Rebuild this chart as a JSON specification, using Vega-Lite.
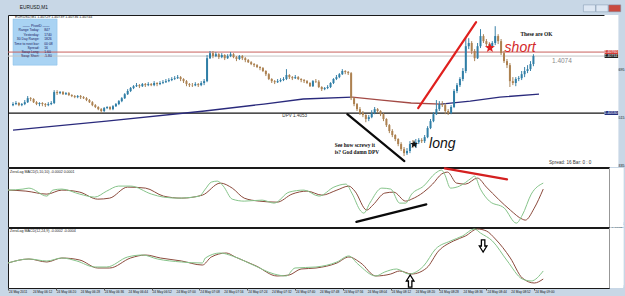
{
"$schema":"https://vega.github.io/schema/vega-lite/v6.json",
"background":"#c8d7e6",
"padding":{"left":5,"top":4,"right":6,"bottom":3},
"spacing":1,
"bounds":"flush",
"config":{
"font":"Liberation Sans",
"view":{"stroke":"#1a1a1a","strokeWidth":1,"fill":"#ffffff"},
"axisY":{"grid":false,"ticks":false,"domain":false,"offset":0,"labelPadding":2,"labelFontSize":3.6,"labelColor":"#111111","labelOverlap":false,"labelFlush":false,"zindex":1},
"axisX":{"grid":false,"domain":false,"ticks":true,"tickSize":2,"tickColor":"#555555","labels":false,"zindex":1}
},
"datasets":{
"candles":[
{"m":4,"o":1.4056,"h":1.40571,"l":1.40556,"c":1.40564},
{"m":5,"o":1.40564,"h":1.40575,"l":1.4056,"c":1.40568},
{"m":6,"o":1.40568,"h":1.40571,"l":1.40556,"c":1.4056},
{"m":7,"o":1.4056,"h":1.40568,"l":1.40556,"c":1.40564},
{"m":8,"o":1.40564,"h":1.40579,"l":1.4056,"c":1.40571},
{"m":9,"o":1.40571,"h":1.40594,"l":1.40568,"c":1.40586},
{"m":10,"o":1.40586,"h":1.4059,"l":1.40575,"c":1.40583},
{"m":11,"o":1.40583,"h":1.40586,"l":1.40568,"c":1.40571},
{"m":12,"o":1.40571,"h":1.40575,"l":1.4056,"c":1.40564},
{"m":13,"o":1.40564,"h":1.40571,"l":1.40556,"c":1.40568},
{"m":14,"o":1.40568,"h":1.40571,"l":1.40556,"c":1.40564},
{"m":15,"o":1.40564,"h":1.40568,"l":1.40553,"c":1.4056},
{"m":16,"o":1.4056,"h":1.40571,"l":1.40556,"c":1.40564},
{"m":17,"o":1.40564,"h":1.40575,"l":1.4056,"c":1.40568},
{"m":18,"o":1.40568,"h":1.40616,"l":1.40564,"c":1.40609},
{"m":19,"o":1.40609,"h":1.40616,"l":1.40598,"c":1.40605},
{"m":20,"o":1.40605,"h":1.40613,"l":1.40601,"c":1.40609},
{"m":21,"o":1.40609,"h":1.40613,"l":1.40598,"c":1.40601},
{"m":22,"o":1.40601,"h":1.40609,"l":1.40598,"c":1.40605},
{"m":23,"o":1.40605,"h":1.40609,"l":1.40594,"c":1.40598},
{"m":24,"o":1.40598,"h":1.40601,"l":1.4059,"c":1.40594},
{"m":25,"o":1.40594,"h":1.40598,"l":1.40586,"c":1.4059},
{"m":26,"o":1.4059,"h":1.40598,"l":1.40586,"c":1.40594},
{"m":27,"o":1.40594,"h":1.40598,"l":1.40583,"c":1.4059},
{"m":28,"o":1.4059,"h":1.40594,"l":1.40583,"c":1.40586},
{"m":29,"o":1.40586,"h":1.4059,"l":1.40575,"c":1.40579},
{"m":30,"o":1.40579,"h":1.40583,"l":1.40568,"c":1.40571},
{"m":31,"o":1.40571,"h":1.40575,"l":1.40556,"c":1.4056},
{"m":32,"o":1.4056,"h":1.40564,"l":1.40549,"c":1.40553},
{"m":33,"o":1.40553,"h":1.40556,"l":1.40541,"c":1.40545},
{"m":34,"o":1.40545,"h":1.40549,"l":1.4053,"c":1.40538},
{"m":35,"o":1.40538,"h":1.40553,"l":1.40534,"c":1.40549},
{"m":36,"o":1.40549,"h":1.40556,"l":1.40545,"c":1.40553},
{"m":37,"o":1.40553,"h":1.40556,"l":1.40541,"c":1.40545},
{"m":38,"o":1.40545,"h":1.4056,"l":1.40541,"c":1.40556},
{"m":39,"o":1.40556,"h":1.40568,"l":1.40553,"c":1.40564},
{"m":40,"o":1.40564,"h":1.40579,"l":1.4056,"c":1.40575},
{"m":41,"o":1.40575,"h":1.4059,"l":1.40571,"c":1.40586},
{"m":42,"o":1.40586,"h":1.40605,"l":1.40583,"c":1.40601},
{"m":43,"o":1.40601,"h":1.4062,"l":1.40598,"c":1.40613},
{"m":44,"o":1.40613,"h":1.40628,"l":1.40609,"c":1.40624},
{"m":45,"o":1.40624,"h":1.40635,"l":1.4062,"c":1.40631},
{"m":46,"o":1.40631,"h":1.40643,"l":1.40628,"c":1.40635},
{"m":47,"o":1.40635,"h":1.40639,"l":1.40624,"c":1.40631},
{"m":48,"o":1.40631,"h":1.40643,"l":1.40628,"c":1.40639},
{"m":49,"o":1.40639,"h":1.40643,"l":1.40628,"c":1.40635},
{"m":50,"o":1.40635,"h":1.40646,"l":1.40631,"c":1.40639},
{"m":51,"o":1.40639,"h":1.40643,"l":1.40631,"c":1.40635},
{"m":52,"o":1.40635,"h":1.4065,"l":1.40631,"c":1.40643},
{"m":53,"o":1.40643,"h":1.40646,"l":1.40631,"c":1.40639},
{"m":54,"o":1.40639,"h":1.4065,"l":1.40635,"c":1.40643},
{"m":55,"o":1.40643,"h":1.40654,"l":1.40639,"c":1.40646},
{"m":56,"o":1.40646,"h":1.40658,"l":1.40643,"c":1.4065},
{"m":57,"o":1.4065,"h":1.40661,"l":1.40646,"c":1.40654},
{"m":58,"o":1.40654,"h":1.40665,"l":1.4065,"c":1.40658},
{"m":59,"o":1.40658,"h":1.40669,"l":1.40654,"c":1.40661},
{"m":60,"o":1.40661,"h":1.40673,"l":1.40658,"c":1.40665},
{"m":61,"o":1.40665,"h":1.40669,"l":1.4065,"c":1.40658},
{"m":62,"o":1.40658,"h":1.40661,"l":1.40643,"c":1.4065},
{"m":63,"o":1.4065,"h":1.40654,"l":1.40631,"c":1.40639},
{"m":64,"o":1.40639,"h":1.40643,"l":1.40628,"c":1.40635},
{"m":65,"o":1.40635,"h":1.40643,"l":1.40628,"c":1.40634},
{"m":66,"o":1.40634,"h":1.40646,"l":1.40631,"c":1.40639},
{"m":67,"o":1.40639,"h":1.40643,"l":1.40628,"c":1.40635},
{"m":68,"o":1.40635,"h":1.4065,"l":1.40631,"c":1.40643},
{"m":69,"o":1.40643,"h":1.40658,"l":1.40635,"c":1.4065},
{"m":70,"o":1.4065,"h":1.40748,"l":1.40646,"c":1.40736},
{"m":71,"o":1.40736,"h":1.40763,"l":1.40733,"c":1.40755},
{"m":72,"o":1.40755,"h":1.40763,"l":1.40736,"c":1.40744},
{"m":73,"o":1.40744,"h":1.40759,"l":1.4074,"c":1.40751},
{"m":74,"o":1.40751,"h":1.40755,"l":1.40733,"c":1.4074},
{"m":75,"o":1.4074,"h":1.40755,"l":1.40736,"c":1.40748},
{"m":76,"o":1.40748,"h":1.40751,"l":1.40729,"c":1.40736},
{"m":77,"o":1.40736,"h":1.40751,"l":1.40733,"c":1.40744},
{"m":78,"o":1.40744,"h":1.40759,"l":1.4074,"c":1.40751},
{"m":79,"o":1.40751,"h":1.40755,"l":1.40736,"c":1.4074},
{"m":80,"o":1.4074,"h":1.40744,"l":1.40725,"c":1.40733},
{"m":81,"o":1.40733,"h":1.40748,"l":1.40729,"c":1.40744},
{"m":82,"o":1.40744,"h":1.40748,"l":1.40729,"c":1.40736},
{"m":83,"o":1.40736,"h":1.4074,"l":1.40721,"c":1.40729},
{"m":84,"o":1.40729,"h":1.40733,"l":1.40718,"c":1.40721},
{"m":85,"o":1.40721,"h":1.40725,"l":1.4071,"c":1.40714},
{"m":86,"o":1.40714,"h":1.40718,"l":1.40703,"c":1.4071},
{"m":87,"o":1.4071,"h":1.40714,"l":1.40699,"c":1.40703},
{"m":88,"o":1.40703,"h":1.40706,"l":1.40691,"c":1.40699},
{"m":89,"o":1.40699,"h":1.40703,"l":1.40684,"c":1.40688},
{"m":90,"o":1.40688,"h":1.40691,"l":1.40669,"c":1.40676},
{"m":91,"o":1.40676,"h":1.4068,"l":1.40654,"c":1.40658},
{"m":92,"o":1.40658,"h":1.40661,"l":1.40643,"c":1.4065},
{"m":93,"o":1.4065,"h":1.40654,"l":1.40639,"c":1.40646},
{"m":94,"o":1.40646,"h":1.40658,"l":1.40643,"c":1.4065},
{"m":95,"o":1.4065,"h":1.40661,"l":1.40646,"c":1.40654},
{"m":96,"o":1.40654,"h":1.40665,"l":1.4065,"c":1.40658},
{"m":97,"o":1.40658,"h":1.40695,"l":1.40654,"c":1.40673},
{"m":98,"o":1.40673,"h":1.40676,"l":1.40658,"c":1.40665},
{"m":99,"o":1.40665,"h":1.40669,"l":1.40654,"c":1.40661},
{"m":100,"o":1.40661,"h":1.40673,"l":1.40658,"c":1.40665},
{"m":101,"o":1.40665,"h":1.40669,"l":1.40654,"c":1.40658},
{"m":102,"o":1.40658,"h":1.40661,"l":1.40646,"c":1.40654},
{"m":103,"o":1.40654,"h":1.40658,"l":1.40643,"c":1.4065},
{"m":104,"o":1.4065,"h":1.40654,"l":1.40639,"c":1.40643},
{"m":105,"o":1.40643,"h":1.40646,"l":1.40628,"c":1.40631},
{"m":106,"o":1.40631,"h":1.40654,"l":1.40628,"c":1.4065},
{"m":107,"o":1.4065,"h":1.40658,"l":1.40643,"c":1.40648},
{"m":108,"o":1.40648,"h":1.40654,"l":1.40624,"c":1.40628},
{"m":109,"o":1.40628,"h":1.40631,"l":1.40613,"c":1.4062},
{"m":110,"o":1.4062,"h":1.40628,"l":1.40616,"c":1.40624},
{"m":111,"o":1.40624,"h":1.40635,"l":1.4062,"c":1.40628},
{"m":112,"o":1.40628,"h":1.40646,"l":1.40624,"c":1.40643},
{"m":113,"o":1.40643,"h":1.40661,"l":1.40639,"c":1.40658},
{"m":114,"o":1.40658,"h":1.40673,"l":1.40654,"c":1.40665},
{"m":115,"o":1.40665,"h":1.4068,"l":1.40661,"c":1.40676},
{"m":116,"o":1.40676,"h":1.40695,"l":1.40673,"c":1.40688},
{"m":117,"o":1.40688,"h":1.40691,"l":1.40676,"c":1.40684},
{"m":118,"o":1.40684,"h":1.40688,"l":1.40673,"c":1.4068},
{"m":119,"o":1.4068,"h":1.40684,"l":1.40579,"c":1.40586},
{"m":120,"o":1.40586,"h":1.4059,"l":1.40556,"c":1.40564},
{"m":121,"o":1.40564,"h":1.40568,"l":1.40538,"c":1.40545},
{"m":122,"o":1.40545,"h":1.40553,"l":1.40523,"c":1.4053},
{"m":123,"o":1.4053,"h":1.40538,"l":1.40515,"c":1.40523},
{"m":124,"o":1.40523,"h":1.40526,"l":1.40496,"c":1.40508},
{"m":125,"o":1.40508,"h":1.40523,"l":1.405,"c":1.40515},
{"m":126,"o":1.40515,"h":1.40541,"l":1.40511,"c":1.4053},
{"m":127,"o":1.4053,"h":1.40553,"l":1.40526,"c":1.40545},
{"m":128,"o":1.40545,"h":1.40549,"l":1.4053,"c":1.40538},
{"m":129,"o":1.40538,"h":1.40541,"l":1.40519,"c":1.40526},
{"m":130,"o":1.40526,"h":1.4053,"l":1.405,"c":1.40508},
{"m":131,"o":1.40508,"h":1.40511,"l":1.40478,"c":1.40485},
{"m":132,"o":1.40485,"h":1.40489,"l":1.40455,"c":1.40463},
{"m":133,"o":1.40463,"h":1.4047,"l":1.4044,"c":1.40448},
{"m":134,"o":1.40448,"h":1.40451,"l":1.40425,"c":1.40433},
{"m":135,"o":1.40433,"h":1.40436,"l":1.40406,"c":1.40414},
{"m":136,"o":1.40414,"h":1.40421,"l":1.40388,"c":1.40395},
{"m":137,"o":1.40395,"h":1.40403,"l":1.40369,"c":1.4038},
{"m":138,"o":1.4038,"h":1.40399,"l":1.40373,"c":1.40388},
{"m":139,"o":1.40388,"h":1.40425,"l":1.4038,"c":1.40414},
{"m":140,"o":1.40414,"h":1.40429,"l":1.40399,"c":1.40406},
{"m":141,"o":1.40406,"h":1.40433,"l":1.40399,"c":1.40421},
{"m":142,"o":1.40421,"h":1.40436,"l":1.40414,"c":1.40429},
{"m":143,"o":1.40429,"h":1.40436,"l":1.40418,"c":1.40425},
{"m":144,"o":1.40425,"h":1.40448,"l":1.40418,"c":1.4044},
{"m":145,"o":1.4044,"h":1.40481,"l":1.40436,"c":1.40474},
{"m":146,"o":1.40474,"h":1.40508,"l":1.4047,"c":1.405},
{"m":147,"o":1.405,"h":1.40534,"l":1.40496,"c":1.40526},
{"m":148,"o":1.40526,"h":1.40579,"l":1.40523,"c":1.40545},
{"m":149,"o":1.40545,"h":1.40575,"l":1.40538,"c":1.40564},
{"m":150,"o":1.40564,"h":1.40575,"l":1.40553,"c":1.4056},
{"m":151,"o":1.4056,"h":1.40568,"l":1.40526,"c":1.40538},
{"m":152,"o":1.40538,"h":1.40545,"l":1.40523,"c":1.4053},
{"m":153,"o":1.4053,"h":1.4056,"l":1.40526,"c":1.40553},
{"m":154,"o":1.40553,"h":1.4062,"l":1.40549,"c":1.40613},
{"m":155,"o":1.40613,"h":1.40643,"l":1.40605,"c":1.40635},
{"m":156,"o":1.40635,"h":1.40665,"l":1.40628,"c":1.40658},
{"m":157,"o":1.40658,"h":1.40699,"l":1.4065,"c":1.40688},
{"m":158,"o":1.40688,"h":1.40815,"l":1.4068,"c":1.40781},
{"m":159,"o":1.40781,"h":1.40811,"l":1.4077,"c":1.40793},
{"m":160,"o":1.40793,"h":1.408,"l":1.40751,"c":1.40763},
{"m":161,"o":1.40763,"h":1.4077,"l":1.40725,"c":1.40736},
{"m":162,"o":1.40736,"h":1.40793,"l":1.40733,"c":1.40781},
{"m":163,"o":1.40781,"h":1.40845,"l":1.40774,"c":1.40819},
{"m":164,"o":1.40819,"h":1.40826,"l":1.40793,"c":1.408},
{"m":165,"o":1.408,"h":1.40808,"l":1.40781,"c":1.40789},
{"m":166,"o":1.40789,"h":1.40796,"l":1.40774,"c":1.40781},
{"m":167,"o":1.40781,"h":1.408,"l":1.40774,"c":1.40793},
{"m":168,"o":1.40793,"h":1.40856,"l":1.40785,"c":1.40819},
{"m":169,"o":1.40819,"h":1.40826,"l":1.40789,"c":1.408},
{"m":170,"o":1.408,"h":1.40808,"l":1.40748,"c":1.40755},
{"m":171,"o":1.40755,"h":1.40763,"l":1.40718,"c":1.40725},
{"m":172,"o":1.40725,"h":1.40733,"l":1.40699,"c":1.4071},
{"m":173,"o":1.4071,"h":1.40718,"l":1.40628,"c":1.4065},
{"m":174,"o":1.4065,"h":1.40665,"l":1.40635,"c":1.40643},
{"m":175,"o":1.40643,"h":1.40665,"l":1.40631,"c":1.40658},
{"m":176,"o":1.40658,"h":1.40669,"l":1.4065,"c":1.40661},
{"m":177,"o":1.40661,"h":1.40688,"l":1.40654,"c":1.40676},
{"m":178,"o":1.40676,"h":1.40703,"l":1.40665,"c":1.40688},
{"m":179,"o":1.40688,"h":1.4071,"l":1.4068,"c":1.40695},
{"m":180,"o":1.40695,"h":1.40725,"l":1.40688,"c":1.40714},
{"m":181,"o":1.40714,"h":1.40751,"l":1.40706,"c":1.40744}
],
"ma":[
{"m":4,"p":1.40466,"d":"up","seg":1},{"m":35.8,"p":1.405,"d":"up","seg":1},{"m":69.2,"p":1.40538,"d":"up","seg":1},{"m":89.3,"p":1.40564,"d":"up","seg":1},{"m":102.7,"p":1.40583,"d":"up","seg":1},{"m":119.4,"p":1.4059,"d":"up","seg":1},
{"m":119.4,"p":1.4059,"d":"down","seg":2},{"m":129.4,"p":1.40579,"d":"down","seg":2},{"m":139.4,"p":1.40568,"d":"down","seg":2},{"m":149.5,"p":1.40564,"d":"down","seg":2},
{"m":149.5,"p":1.40564,"d":"up","seg":3},{"m":159.5,"p":1.40575,"d":"up","seg":3},{"m":169.6,"p":1.4059,"d":"up","seg":3},{"m":182.9,"p":1.40601,"d":"up","seg":3}
],
"levels":[{"p":1.4053,"k":"DPV"},{"p":1.40759,"k":"Ask"},{"p":1.40744,"k":"Bid"}],
"infobox":[{"m1":4,"m2":19,"p1":1.40883,"p2":1.4071}],
"infohead":[{"m":11.9,"p":1.40856,"t":"——  PivotD  ——"}],
"info":[
{"ml":13,"mv":14.6,"p":1.4084,"t":"Range Today:","v":"847"},
{"ml":13,"mv":14.6,"p":1.40824,"t":"Yesterday:","v":"1740"},
{"ml":13,"mv":14.6,"p":1.40808,"t":"30 Day Range:","v":"1826"},
{"ml":13,"mv":14.6,"p":1.40791,"t":"Time to next bar:","v":"00:08"},
{"ml":13,"mv":14.6,"p":1.40775,"t":"Spread:","v":"16"},
{"ml":13,"mv":14.6,"p":1.40759,"t":"Swap Long:","v":"1.60"},
{"ml":13,"mv":14.6,"p":1.40743,"t":"Swap Short:","v":"-5.80"}
],
"header":[{"m":4.7,"p":1.4089,"t":"EURUSD,M1  1.40729 1.40739 1.40736 1.40744"}],
"titlebar":[{"m":6.3,"p":1.40924,"t":"EURUSD,M1"}],
"buttons":[
{"m1":198,"m2":202.1,"p1":1.40936,"p2":1.4091,"k":"min"},
{"m1":202.3,"m2":206.4,"p1":1.40936,"p2":1.4091,"k":"max"},
{"m1":206.6,"m2":210.7,"p1":1.40936,"p2":1.4091,"k":"close"}
],
"strip1":[{"m1":205.15,"m2":209.9,"p1":1.40328,"p2":1.40898}],
"strip2":[{"m1":205.15,"m2":209.9,"v1":-0.00068,"v2":0.00054}],
"strip3":[{"m1":205.15,"m2":209.9,"v1":-0.000645,"v2":0.000903}],
"axisboxes":[
{"m1":205.2,"m2":209.8,"p1":1.40766,"p2":1.40751,"p":1.407585,"k":"ask","t":"1.40760"},
{"m1":205.2,"m2":209.8,"p1":1.40751,"p2":1.40737,"p":1.40744,"k":"bid","t":"1.40744"},
{"m1":205.2,"m2":209.8,"p1":1.40538,"p2":1.40523,"p":1.405305,"k":"dpv","t":"1.40530"}
],
"strokesMain":[
{"m":141.8,"p":1.40549,"m2":161.5,"p2":1.40871,"k":"red"},
{"m":117.7,"p":1.40526,"m2":137.1,"p2":1.4035,"k":"black"}
],
"smallText":[{"m":95.6,"p":1.40519,"t":"DPV   1.4053"},{"m":186.3,"p":1.40344,"t":"Spread: 16    Bar: 0 : 0"}],
"priceText":[{"m":187.3,"p":1.40725,"t":"1.4074"}],
"serifNotes":[
{"m":113.4,"p":1.4041,"t":"See how screwy it"},
{"m":113.4,"p":1.40385,"t":"is?    God damn DPV"},
{"m":176.6,"p":1.40825,"t":"These are OK"}
],
"bigNotes":[{"m":145.5,"p":1.40414,"t":"long"},{"m":171.2,"p":1.40774,"t":"short"}],
"stars":[{"m":166.2,"p":1.40775,"k":"red"},{"m":140.4,"p":1.40413,"k":"black"}],
"macd1":[
{"m":4,"v":0.000083,"s":"Signal"},{"m":10,"v":0.000062,"s":"Signal"},{"m":17,"v":0.0,"s":"Signal"},{"m":22,"v":0.000083,"s":"Signal"},{"m":28,"v":0.000041,"s":"Signal"},{"m":34,"v":-0.000104,"s":"Signal"},{"m":38,"v":-0.000083,"s":"Signal"},{"m":44,"v":0.000145,"s":"Signal"},{"m":50,"v":0.000124,"s":"Signal"},{"m":56,"v":-0.000041,"s":"Signal"},{"m":62,"v":-0.000083,"s":"Signal"},{"m":69,"v":-0.000021,"s":"Signal"},{"m":75,"v":0.000228,"s":"Signal"},{"m":79,"v":0.000124,"s":"Signal"},{"m":83,"v":-0.000083,"s":"Signal"},{"m":88,"v":-0.000145,"s":"Signal"},{"m":94,"v":-0.000166,"s":"Signal"},{"m":99,"v":0.0,"s":"Signal"},{"m":104,"v":0.000062,"s":"Signal"},{"m":109,"v":-0.000021,"s":"Signal"},{"m":114,"v":0.000083,"s":"Signal"},{"m":118,"v":0.000166,"s":"Signal"},{"m":120,"v":0.000062,"s":"Signal"},{"m":124,"v":-0.000331,"s":"Signal"},{"m":126,"v":-0.000228,"s":"Signal"},{"m":130,"v":0.000021,"s":"Signal"},{"m":133,"v":0.000041,"s":"Signal"},{"m":137,"v":-0.000145,"s":"Signal"},{"m":139,"v":-0.000104,"s":"Signal"},{"m":143,"v":0.000041,"s":"Signal"},{"m":146,"v":0.000207,"s":"Signal"},{"m":149,"v":0.000414,"s":"Signal"},{"m":151,"v":0.000455,"s":"Signal"},{"m":154,"v":0.000228,"s":"Signal"},{"m":157,"v":0.000207,"s":"Signal"},{"m":161,"v":0.000331,"s":"Signal"},{"m":164,"v":0.000145,"s":"Signal"},{"m":168,"v":-0.000104,"s":"Signal"},{"m":172,"v":-0.000331,"s":"Signal"},{"m":176,"v":-0.000518,"s":"Signal"},{"m":177,"v":-0.000538,"s":"Signal"},{"m":180,"v":-0.00029,"s":"Signal"},{"m":183,"v":0.000104,"s":"Signal"},
{"m":4,"v":0.000083,"s":"MACD"},{"m":9,"v":0.000104,"s":"MACD"},{"m":11,"v":0.000124,"s":"MACD"},{"m":17,"v":-0.000041,"s":"MACD"},{"m":19,"v":0.000083,"s":"MACD"},{"m":22,"v":0.000104,"s":"MACD"},{"m":28,"v":0.0,"s":"MACD"},{"m":33,"v":-0.000062,"s":"MACD"},{"m":37,"v":0.000062,"s":"MACD"},{"m":41,"v":0.000166,"s":"MACD"},{"m":45,"v":0.000166,"s":"MACD"},{"m":52,"v":0.0,"s":"MACD"},{"m":56,"v":-0.000062,"s":"MACD"},{"m":61,"v":-0.000083,"s":"MACD"},{"m":68,"v":-0.000041,"s":"MACD"},{"m":70,"v":0.000104,"s":"MACD"},{"m":72,"v":0.000248,"s":"MACD"},{"m":74,"v":0.000269,"s":"MACD"},{"m":76,"v":0.000166,"s":"MACD"},{"m":79,"v":-0.000104,"s":"MACD"},{"m":83,"v":-0.000145,"s":"MACD"},{"m":89,"v":-0.000124,"s":"MACD"},{"m":93,"v":-0.000186,"s":"MACD"},{"m":98,"v":0.000041,"s":"MACD"},{"m":103,"v":0.000083,"s":"MACD"},{"m":108,"v":-0.000041,"s":"MACD"},{"m":113,"v":0.000145,"s":"MACD"},{"m":117,"v":0.000207,"s":"MACD"},{"m":119,"v":0.000021,"s":"MACD"},{"m":122,"v":-0.000352,"s":"MACD"},{"m":123,"v":-0.000393,"s":"MACD"},{"m":125,"v":-0.000186,"s":"MACD"},{"m":129,"v":0.000124,"s":"MACD"},{"m":132,"v":0.000104,"s":"MACD"},{"m":135,"v":-0.000186,"s":"MACD"},{"m":137,"v":-0.000186,"s":"MACD"},{"m":139,"v":0.0,"s":"MACD"},{"m":143,"v":0.000166,"s":"MACD"},{"m":147,"v":0.000435,"s":"MACD"},{"m":149,"v":0.000497,"s":"MACD"},{"m":150,"v":0.000414,"s":"MACD"},{"m":152,"v":0.000124,"s":"MACD"},{"m":155,"v":0.000166,"s":"MACD"},{"m":159,"v":0.000331,"s":"MACD"},{"m":160,"v":0.000373,"s":"MACD"},{"m":162,"v":0.000104,"s":"MACD"},{"m":165,"v":-0.000145,"s":"MACD"},{"m":170,"v":-0.00029,"s":"MACD"},{"m":174,"v":-0.0006,"s":"MACD"},{"m":176,"v":-0.000435,"s":"MACD"},{"m":179,"v":0.0,"s":"MACD"},{"m":183,"v":0.000228,"s":"MACD"}
],
"macd2":[
{"m":4,"v":0.0,"s":"Signal"},{"m":11,"v":0.000103,"s":"Signal"},{"m":17,"v":0.000026,"s":"Signal"},{"m":22,"v":0.000129,"s":"Signal"},{"m":28,"v":0.000077,"s":"Signal"},{"m":34,"v":-0.000129,"s":"Signal"},{"m":38,"v":-0.000129,"s":"Signal"},{"m":45,"v":0.000129,"s":"Signal"},{"m":50,"v":0.000206,"s":"Signal"},{"m":55,"v":0.000129,"s":"Signal"},{"m":62,"v":0.000052,"s":"Signal"},{"m":69,"v":-0.000052,"s":"Signal"},{"m":72,"v":0.000155,"s":"Signal"},{"m":77,"v":0.000258,"s":"Signal"},{"m":80,"v":0.000155,"s":"Signal"},{"m":87,"v":-0.000077,"s":"Signal"},{"m":94,"v":-0.000335,"s":"Signal"},{"m":98,"v":-0.00031,"s":"Signal"},{"m":102,"v":-0.000155,"s":"Signal"},{"m":107,"v":-0.000129,"s":"Signal"},{"m":114,"v":0.0,"s":"Signal"},{"m":118,"v":0.000155,"s":"Signal"},{"m":122,"v":0.0,"s":"Signal"},{"m":127,"v":-0.000335,"s":"Signal"},{"m":132,"v":-0.000284,"s":"Signal"},{"m":135,"v":-0.000206,"s":"Signal"},{"m":139,"v":-0.000284,"s":"Signal"},{"m":144,"v":-0.000129,"s":"Signal"},{"m":148,"v":0.00031,"s":"Signal"},{"m":153,"v":0.000568,"s":"Signal"},{"m":157,"v":0.000697,"s":"Signal"},{"m":161,"v":0.000877,"s":"Signal"},{"m":164,"v":0.000826,"s":"Signal"},{"m":167,"v":0.000619,"s":"Signal"},{"m":172,"v":0.000129,"s":"Signal"},{"m":176,"v":-0.000387,"s":"Signal"},{"m":180,"v":-0.000516,"s":"Signal"},{"m":183,"v":-0.000413,"s":"Signal"},
{"m":4,"v":0.0,"s":"MACD"},{"m":11,"v":0.000103,"s":"MACD"},{"m":17,"v":0.000052,"s":"MACD"},{"m":22,"v":0.000129,"s":"MACD"},{"m":27,"v":0.000052,"s":"MACD"},{"m":33,"v":-0.000103,"s":"MACD"},{"m":37,"v":-0.000103,"s":"MACD"},{"m":44,"v":0.000155,"s":"MACD"},{"m":49,"v":0.000206,"s":"MACD"},{"m":54,"v":0.000103,"s":"MACD"},{"m":62,"v":0.000026,"s":"MACD"},{"m":69,"v":0.0,"s":"MACD"},{"m":70,"v":0.000129,"s":"MACD"},{"m":75,"v":0.000258,"s":"MACD"},{"m":79,"v":0.000181,"s":"MACD"},{"m":86,"v":-0.000052,"s":"MACD"},{"m":93,"v":-0.000284,"s":"MACD"},{"m":97,"v":-0.000335,"s":"MACD"},{"m":100,"v":-0.000129,"s":"MACD"},{"m":107,"v":-0.000103,"s":"MACD"},{"m":114,"v":0.000026,"s":"MACD"},{"m":118,"v":0.000181,"s":"MACD"},{"m":121,"v":-0.000026,"s":"MACD"},{"m":127,"v":-0.000335,"s":"MACD"},{"m":130,"v":-0.000232,"s":"MACD"},{"m":134,"v":-0.000155,"s":"MACD"},{"m":138,"v":-0.000284,"s":"MACD"},{"m":143,"v":-0.000077,"s":"MACD"},{"m":147,"v":0.000361,"s":"MACD"},{"m":152,"v":0.000568,"s":"MACD"},{"m":156,"v":0.000697,"s":"MACD"},{"m":160,"v":0.000877,"s":"MACD"},{"m":162,"v":0.000774,"s":"MACD"},{"m":166,"v":0.000568,"s":"MACD"},{"m":171,"v":0.000052,"s":"MACD"},{"m":176,"v":-0.000413,"s":"MACD"},{"m":179,"v":-0.000464,"s":"MACD"},{"m":183,"v":-0.000206,"s":"MACD"}
],
"strokes1":[
{"m":150.1,"v":0.000532,"m2":170.9,"v2":0.000304,"k":"red"},
{"m":120.5,"v":-0.000573,"m2":143.9,"v2":-0.000213,"k":"black"}
],
"title1":[{"m":4.7,"v":0.000455,"t":"ZeroLag MACD(5,10,10) -0.0002 0.0001"}],
"title2":[{"m":4.7,"v":0.000838,"t":"ZeroLag MACD(12,24,9) -0.0002 -0.0004"}],
"arrows":[{"m":138.5,"v":-0.000464,"k":"up"},{"m":162.9,"v":0.000439,"k":"down"}],
"timeLabels":[
{"m":4,"v":-0.000645,"t":"24 May 2011"},{"m":12,"v":-0.000645,"t":"24 May 06:12"},{"m":20,"v":-0.000645,"t":"24 May 06:20"},{"m":28,"v":-0.000645,"t":"24 May 06:28"},
{"m":36,"v":-0.000645,"t":"24 May 06:36"},{"m":44,"v":-0.000645,"t":"24 May 06:44"},{"m":52,"v":-0.000645,"t":"24 May 06:52"},{"m":60,"v":-0.000645,"t":"24 May 07:00"},
{"m":68,"v":-0.000645,"t":"24 May 07:08"},{"m":76,"v":-0.000645,"t":"24 May 07:16"},{"m":84,"v":-0.000645,"t":"24 May 07:24"},{"m":92,"v":-0.000645,"t":"24 May 07:32"},
{"m":100,"v":-0.000645,"t":"24 May 07:40"},{"m":108,"v":-0.000645,"t":"24 May 07:48"},{"m":116,"v":-0.000645,"t":"24 May 07:56"},{"m":124,"v":-0.000645,"t":"24 May 08:04"},
{"m":132,"v":-0.000645,"t":"24 May 08:12"},{"m":140,"v":-0.000645,"t":"24 May 08:20"},{"m":148,"v":-0.000645,"t":"24 May 08:28"},{"m":156,"v":-0.000645,"t":"24 May 08:36"},
{"m":164,"v":-0.000645,"t":"24 May 08:44"},{"m":172,"v":-0.000645,"t":"24 May 08:52"},{"m":180,"v":-0.000645,"t":"24 May 09:00"}
]
},
"vconcat":[
{
"width":601,"height":152,
"layer":[
{"data":{"name":"infobox"},"mark":{"type":"rect","fill":"#a9d3f3","stroke":"#86bce6","strokeWidth":0.5},
 "encoding":{"x":{"field":"m1","type":"quantitative","scale":{"domain":[4,205],"nice":false,"zero":false},"axis":null},"x2":{"field":"m2"},
 "y":{"field":"p1","type":"quantitative","title":null,"scale":{"domain":[1.40328,1.40898],"nice":false,"zero":false}},"y2":{"field":"p2"}}},
{"data":{"name":"levels"},"mark":{"type":"rule"},
 "encoding":{"y":{"field":"p","type":"quantitative","title":null,"scale":{"domain":[1.40328,1.40898],"nice":false,"zero":false}},
 "color":{"condition":[{"test":"datum.k=='DPV'","value":"#151515"},{"test":"datum.k=='Ask'","value":"#c9605c"}],"value":"#c4c4c4"},
 "strokeWidth":{"condition":{"test":"datum.k=='DPV'","value":1.4},"value":1}}},
{"data":{"name":"ma"},"mark":{"type":"line","strokeWidth":1.3},
 "encoding":{"x":{"field":"m","type":"quantitative","scale":{"domain":[4,205],"nice":false,"zero":false},"axis":null},
 "y":{"field":"p","type":"quantitative","title":null,"scale":{"domain":[1.40328,1.40898],"nice":false,"zero":false}},
 "detail":{"field":"seg","type":"nominal"},
 "color":{"condition":{"test":"datum.d=='down'","value":"#a34a45"},"value":"#2a2a7c"}}},
{"data":{"name":"candles"},"mark":{"type":"rule","strokeWidth":1},
 "encoding":{"x":{"field":"m","type":"quantitative","scale":{"domain":[4,205],"nice":false,"zero":false},"axis":null},
 "y":{"field":"l","type":"quantitative","title":null,"scale":{"domain":[1.40328,1.40898],"nice":false,"zero":false}},"y2":{"field":"h"},
 "color":{"condition":{"test":"datum.c >= datum.o","value":"#3a82a8"},"value":"#a88458"}}},
{"data":{"name":"candles"},"mark":{"type":"bar","size":2},
 "encoding":{"x":{"field":"m","type":"quantitative","scale":{"domain":[4,205],"nice":false,"zero":false},"axis":null},
 "y":{"field":"o","type":"quantitative","title":null,"scale":{"domain":[1.40328,1.40898],"nice":false,"zero":false},
   "axis":{"orient":"right","title":null,"labelOverlap":false,"values":[1.40335,1.4038,1.40425,1.4047,1.40515,1.4056,1.40605,1.4065,1.40695,1.40785,1.4083,1.40875],"format":".5f"}},
 "y2":{"field":"c"},
 "color":{"condition":{"test":"datum.c >= datum.o","value":"#2f7ea6"},"value":"#ad8150"}}},
{"data":{"name":"strokesMain"},"mark":{"type":"rule","strokeWidth":2.2,"strokeCap":"round"},
 "encoding":{"x":{"field":"m","type":"quantitative","scale":{"domain":[4,205],"nice":false,"zero":false},"axis":null},"x2":{"field":"m2"},
 "y":{"field":"p","type":"quantitative","title":null,"scale":{"domain":[1.40328,1.40898],"nice":false,"zero":false}},"y2":{"field":"p2"},
 "color":{"condition":{"test":"datum.k=='red'","value":"#e0201e"},"value":"#0a0a0a"}}},
{"data":{"name":"infohead"},"mark":{"type":"text","fontSize":3.6,"align":"center","baseline":"middle","color":"#1a1a60"},
 "encoding":{"x":{"field":"m","type":"quantitative","scale":{"domain":[4,205],"nice":false,"zero":false},"axis":null},
 "y":{"field":"p","type":"quantitative","title":null,"scale":{"domain":[1.40328,1.40898],"nice":false,"zero":false}},"text":{"field":"t"}}},
{"data":{"name":"info"},"mark":{"type":"text","fontSize":3.4,"align":"right","baseline":"middle","color":"#1a1a60"},
 "encoding":{"x":{"field":"ml","type":"quantitative","scale":{"domain":[4,205],"nice":false,"zero":false},"axis":null},
 "y":{"field":"p","type":"quantitative","title":null,"scale":{"domain":[1.40328,1.40898],"nice":false,"zero":false}},"text":{"field":"t"}}},
{"data":{"name":"info"},"mark":{"type":"text","fontSize":3.4,"align":"left","baseline":"middle","color":"#1a1a60"},
 "encoding":{"x":{"field":"mv","type":"quantitative","scale":{"domain":[4,205],"nice":false,"zero":false},"axis":null},
 "y":{"field":"p","type":"quantitative","title":null,"scale":{"domain":[1.40328,1.40898],"nice":false,"zero":false}},"text":{"field":"v"}}},
{"data":{"name":"header"},"mark":{"type":"text","fontSize":3.6,"align":"left","baseline":"middle","color":"#111111"},
 "encoding":{"x":{"field":"m","type":"quantitative","scale":{"domain":[4,205],"nice":false,"zero":false},"axis":null},
 "y":{"field":"p","type":"quantitative","title":null,"scale":{"domain":[1.40328,1.40898],"nice":false,"zero":false}},"text":{"field":"t"}}},
{"data":{"name":"titlebar"},"mark":{"type":"text","fontSize":4.8,"align":"left","baseline":"middle","color":"#111111"},
 "encoding":{"x":{"field":"m","type":"quantitative","scale":{"domain":[4,205],"nice":false,"zero":false},"axis":null},
 "y":{"field":"p","type":"quantitative","title":null,"scale":{"domain":[1.40328,1.40898],"nice":false,"zero":false}},"text":{"field":"t"}}},
{"data":{"name":"buttons"},"mark":{"type":"rect","stroke":"#7f95ad","strokeWidth":0.5},
 "encoding":{"x":{"field":"m1","type":"quantitative","scale":{"domain":[4,205],"nice":false,"zero":false},"axis":null},"x2":{"field":"m2"},
 "y":{"field":"p1","type":"quantitative","title":null,"scale":{"domain":[1.40328,1.40898],"nice":false,"zero":false}},"y2":{"field":"p2"},
 "color":{"condition":{"test":"datum.k=='close'","value":"#c94a3f"},"value":"#dde7f3"}}},
{"data":{"name":"strip1"},"mark":{"type":"rect","fill":"#ffffff"},
 "encoding":{"x":{"field":"m1","type":"quantitative","scale":{"domain":[4,205],"nice":false,"zero":false},"axis":null},"x2":{"field":"m2"},
 "y":{"field":"p1","type":"quantitative","title":null,"scale":{"domain":[1.40328,1.40898],"nice":false,"zero":false}},"y2":{"field":"p2"}}},
{"data":{"name":"axisboxes"},"mark":{"type":"rect"},
 "encoding":{"x":{"field":"m1","type":"quantitative","scale":{"domain":[4,205],"nice":false,"zero":false},"axis":null},"x2":{"field":"m2"},
 "y":{"field":"p1","type":"quantitative","title":null,"scale":{"domain":[1.40328,1.40898],"nice":false,"zero":false}},"y2":{"field":"p2"},
 "color":{"condition":[{"test":"datum.k=='ask'","value":"#d23c36"},{"test":"datum.k=='bid'","value":"#111111"}],"value":"#23307e"}}},
{"data":{"name":"axisboxes"},"mark":{"type":"text","fontSize":3.6,"align":"left","baseline":"middle","color":"#ffffff"},
 "encoding":{"x":{"field":"m1","type":"quantitative","scale":{"domain":[4,205],"nice":false,"zero":false},"axis":null},
 "y":{"field":"p","type":"quantitative","title":null,"scale":{"domain":[1.40328,1.40898],"nice":false,"zero":false}},"text":{"field":"t"}}},
{"data":{"name":"smallText"},"mark":{"type":"text","fontSize":4.6,"align":"left","baseline":"middle","color":"#333333"},
 "encoding":{"x":{"field":"m","type":"quantitative","scale":{"domain":[4,205],"nice":false,"zero":false},"axis":null},
 "y":{"field":"p","type":"quantitative","title":null,"scale":{"domain":[1.40328,1.40898],"nice":false,"zero":false}},"text":{"field":"t"}}},
{"data":{"name":"priceText"},"mark":{"type":"text","fontSize":6.5,"align":"left","baseline":"middle","color":"#8a8a8a"},
 "encoding":{"x":{"field":"m","type":"quantitative","scale":{"domain":[4,205],"nice":false,"zero":false},"axis":null},
 "y":{"field":"p","type":"quantitative","title":null,"scale":{"domain":[1.40328,1.40898],"nice":false,"zero":false}},"text":{"field":"t"}}},
{"data":{"name":"serifNotes"},"mark":{"type":"text","font":"Liberation Serif","fontWeight":"bold","fontSize":5.4,"align":"left","baseline":"middle","color":"#111111"},
 "encoding":{"x":{"field":"m","type":"quantitative","scale":{"domain":[4,205],"nice":false,"zero":false},"axis":null},
 "y":{"field":"p","type":"quantitative","title":null,"scale":{"domain":[1.40328,1.40898],"nice":false,"zero":false}},"text":{"field":"t"}}},
{"data":{"name":"bigNotes"},"mark":{"type":"text","fontSize":14,"fontStyle":"italic","align":"left","baseline":"middle"},
 "encoding":{"x":{"field":"m","type":"quantitative","scale":{"domain":[4,205],"nice":false,"zero":false},"axis":null},
 "y":{"field":"p","type":"quantitative","title":null,"scale":{"domain":[1.40328,1.40898],"nice":false,"zero":false}},"text":{"field":"t"},
 "color":{"condition":{"test":"datum.t=='short'","value":"#d42a2a"},"value":"#111111"}}},
{"data":{"name":"stars"},"mark":{"type":"point","filled":true,"opacity":1,"strokeWidth":0},
 "encoding":{"x":{"field":"m","type":"quantitative","scale":{"domain":[4,205],"nice":false,"zero":false},"axis":null},
 "y":{"field":"p","type":"quantitative","title":null,"scale":{"domain":[1.40328,1.40898],"nice":false,"zero":false}},
 "shape":{"value":"M0,-1 L0.235,-0.324 L0.951,-0.309 L0.38,0.124 L0.588,0.809 L0,0.4 L-0.588,0.809 L-0.38,0.124 L-0.951,-0.309 L-0.235,-0.324 Z"},
 "size":{"condition":{"test":"datum.k=='red'","value":110},"value":75},
 "color":{"condition":{"test":"datum.k=='red'","value":"#e0201e"},"value":"#111111"}}}
]
},
{
"width":601,"height":59,
"layer":[
{"data":{"name":"strip2"},"mark":{"type":"rect","fill":"#ffffff"},
 "encoding":{"x":{"field":"m1","type":"quantitative","scale":{"domain":[4,205],"nice":false,"zero":false},"axis":null},"x2":{"field":"m2"},
 "y":{"field":"v1","type":"quantitative","title":null,"scale":{"domain":[-0.00068,0.00054],"nice":false,"zero":false}},"y2":{"field":"v2"}}},
{"data":{"name":"macd1"},"mark":{"type":"line","strokeWidth":1,"interpolate":"monotone"},
 "encoding":{"x":{"field":"m","type":"quantitative","scale":{"domain":[4,205],"nice":false,"zero":false},"axis":null},
 "y":{"field":"v","type":"quantitative","title":null,"scale":{"domain":[-0.00068,0.00054],"nice":false,"zero":false},
   "axis":{"orient":"right","title":null,"labelOverlap":false,"values":[0.0005,0,-0.0006],"labelExpr":"datum.value == 0 ? '0.00' : replace(format(datum.value, '.4f'), '−', '-')"}},
 "detail":{"field":"s","type":"nominal"},
 "color":{"condition":{"test":"datum.s=='Signal'","value":"#8b4a3c"},"value":"#86c48a"}}},
{"data":{"name":"strokes1"},"mark":{"type":"rule","strokeWidth":2.2,"strokeCap":"round"},
 "encoding":{"x":{"field":"m","type":"quantitative","scale":{"domain":[4,205],"nice":false,"zero":false},"axis":null},"x2":{"field":"m2"},
 "y":{"field":"v","type":"quantitative","title":null,"scale":{"domain":[-0.00068,0.00054],"nice":false,"zero":false}},"y2":{"field":"v2"},
 "color":{"condition":{"test":"datum.k=='red'","value":"#d42020"},"value":"#0a0a0a"}}},
{"data":{"name":"title1"},"mark":{"type":"text","fontSize":3.6,"align":"left","baseline":"middle","color":"#222222"},
 "encoding":{"x":{"field":"m","type":"quantitative","scale":{"domain":[4,205],"nice":false,"zero":false},"axis":null},
 "y":{"field":"v","type":"quantitative","title":null,"scale":{"domain":[-0.00068,0.00054],"nice":false,"zero":false}},"text":{"field":"t"}}}
]
},
{
"width":601,"height":60,
"layer":[
{"data":{"name":"strip3"},"mark":{"type":"rect","fill":"#ffffff"},
 "encoding":{"x":{"field":"m1","type":"quantitative","title":null,"scale":{"domain":[4,205],"nice":false,"zero":false}},"x2":{"field":"m2"},
 "y":{"field":"v1","type":"quantitative","title":null,"scale":{"domain":[-0.000645,0.000903],"nice":false,"zero":false}},"y2":{"field":"v2"}}},
{"data":{"name":"macd2"},"mark":{"type":"line","strokeWidth":1,"interpolate":"monotone"},
 "encoding":{"x":{"field":"m","type":"quantitative","title":null,"scale":{"domain":[4,205],"nice":false,"zero":false},
   "axis":{"orient":"bottom","title":null,"labels":false,"values":[4,12,20,28,36,44,52,60,68,76,84,92,100,108,116,124,132,140,148,156,164,172,180]}},
 "y":{"field":"v","type":"quantitative","title":null,"scale":{"domain":[-0.000645,0.000903],"nice":false,"zero":false},
   "axis":{"orient":"right","title":null,"labelOverlap":false,"values":[0.0009,0,-0.0006],"labelExpr":"datum.value == 0 ? '0.00' : replace(format(datum.value, '.4f'), '−', '-')"}},
 "detail":{"field":"s","type":"nominal"},
 "color":{"condition":{"test":"datum.s=='Signal'","value":"#8b4a3c"},"value":"#86c48a"}}},
{"data":{"name":"arrows"},"mark":{"type":"point","filled":false,"fill":"#ffffff","stroke":"#000000","strokeWidth":1.3,"opacity":1,"size":150},
 "encoding":{"x":{"field":"m","type":"quantitative","title":null,"scale":{"domain":[4,205],"nice":false,"zero":false}},
 "y":{"field":"v","type":"quantitative","title":null,"scale":{"domain":[-0.000645,0.000903],"nice":false,"zero":false}},
 "shape":{"condition":{"test":"datum.k=='up'","value":"M-0.28,1 L0.28,1 L0.28,0 L0.62,0 L0,-1 L-0.62,0 L-0.28,0 Z"},"value":"M-0.28,-1 L0.28,-1 L0.28,0 L0.62,0 L0,1 L-0.62,0 L-0.28,0 Z"}}},
{"data":{"name":"title2"},"mark":{"type":"text","fontSize":3.6,"align":"left","baseline":"middle","color":"#222222"},
 "encoding":{"x":{"field":"m","type":"quantitative","title":null,"scale":{"domain":[4,205],"nice":false,"zero":false}},
 "y":{"field":"v","type":"quantitative","title":null,"scale":{"domain":[-0.000645,0.000903],"nice":false,"zero":false}},"text":{"field":"t"}}},
{"data":{"name":"timeLabels"},"mark":{"type":"text","fontSize":3.2,"align":"left","baseline":"top","dx":1,"dy":2,"color":"#111111"},
 "encoding":{"x":{"field":"m","type":"quantitative","title":null,"scale":{"domain":[4,205],"nice":false,"zero":false}},
 "y":{"field":"v","type":"quantitative","title":null,"scale":{"domain":[-0.000645,0.000903],"nice":false,"zero":false}},"text":{"field":"t"}}}
]
}
]
}
